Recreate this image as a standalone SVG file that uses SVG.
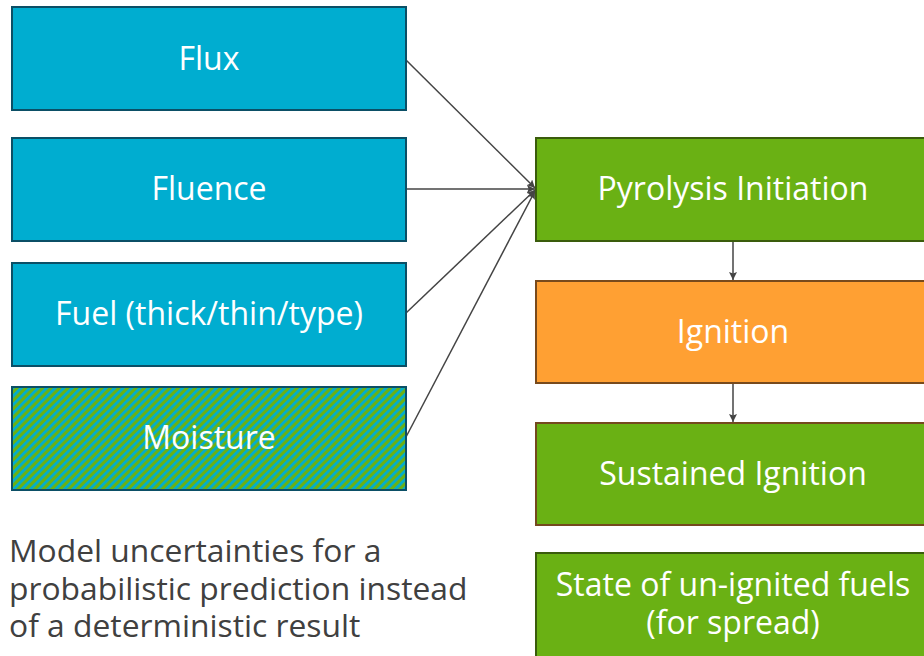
<svg xmlns="http://www.w3.org/2000/svg" width="924" height="656" viewBox="0 0 924 656">
<style>
.lbl{font-family:"Open Sans","Noto Sans","Liberation Sans",sans-serif;font-size:32px;fill:#ffffff;text-anchor:middle}
.note{font-family:"Open Sans","Noto Sans","Liberation Sans",sans-serif;font-size:31.8px;fill:#404040}
.blue{fill:#00ADD0;stroke:#0B4F66;stroke-width:2}
.green{fill:#6AB114;stroke:#3A5C0C;stroke-width:2}
.orange{fill:#FFA033;stroke:#784A1C;stroke-width:2}
.greenb{fill:#6AB114;stroke:#74491E;stroke-width:2}
.conn{stroke:#444;stroke-width:1.5;fill:none}
</style>
<defs>
<pattern id="hatch" patternUnits="userSpaceOnUse" width="6" height="6" patternTransform="rotate(45)">
<rect width="6" height="6" fill="#6AB114"/>
<rect width="2.8" height="6" fill="#00ADD0"/>
</pattern>
<marker id="ah" viewBox="0 0 10 10" refX="10" refY="5" markerWidth="8" markerHeight="8" markerUnits="userSpaceOnUse" orient="auto">
<path d="M0,0 L10,5 L0,10 L2,5 z" fill="#444"/>
</marker>
</defs>
<g id="connectors">
<line class="conn" x1="406" y1="60" x2="535" y2="188" marker-end="url(#ah)"/>
<line class="conn" x1="406" y1="189" x2="535" y2="189" marker-end="url(#ah)"/>
<line class="conn" x1="406" y1="313" x2="535" y2="190" marker-end="url(#ah)"/>
<line class="conn" x1="406" y1="437" x2="535" y2="191" marker-end="url(#ah)"/>
<line class="conn" x1="733" y1="242" x2="733" y2="280" marker-end="url(#ah)"/>
<line class="conn" x1="733" y1="384" x2="733" y2="422" marker-end="url(#ah)"/>
</g>
<g id="flux"><rect class="blue" x="12" y="7" width="394" height="103"/><text class="lbl" x="209" y="70">Flux</text></g>
<g id="fluence"><rect class="blue" x="12" y="138" width="394" height="103"/><text class="lbl" x="209" y="200">Fluence</text></g>
<g id="fuel"><rect class="blue" x="12" y="263" width="394" height="103"/><text class="lbl" x="209" y="325">Fuel (thick/thin/type)</text></g>
<g id="moisture"><rect x="12" y="387" width="394" height="103" fill="url(#hatch)" stroke="#0B4F66" stroke-width="2"/><text class="lbl" x="209" y="449">Moisture</text></g>
<g id="pyrolysis"><rect class="green" x="536" y="138" width="392" height="103"/><text class="lbl" x="733" y="200">Pyrolysis Initiation</text></g>
<g id="ignition"><rect class="orange" x="536" y="281" width="392" height="102"/><text class="lbl" x="733" y="343">Ignition</text></g>
<g id="sustained"><rect class="greenb" x="536" y="423" width="392" height="102"/><text class="lbl" x="733" y="485">Sustained Ignition</text></g>
<g id="state"><rect class="green" x="536" y="553" width="392" height="104"/><text class="lbl" x="733" y="596">State of un-ignited fuels</text><text class="lbl" x="733" y="634">(for spread)</text></g>
<g id="note"><text class="note" x="9" y="562">Model uncertainties for a</text><text class="note" x="9" y="600">probabilistic prediction instead</text><text class="note" x="9" y="637">of a deterministic result</text></g>
</svg>
